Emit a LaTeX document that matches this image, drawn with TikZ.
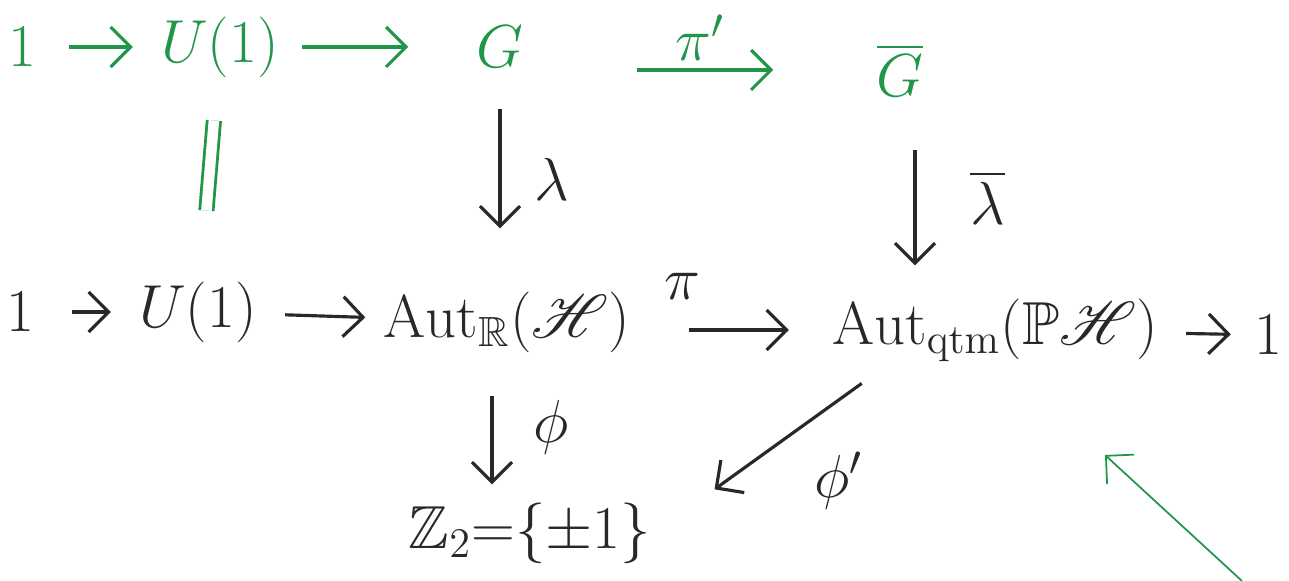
\documentclass[tikz,border=0pt]{standalone}
\usepackage{amssymb}
\usepackage{mathrsfs}
\usetikzlibrary{arrows.meta}
\tikzset{every node/.style={font=\LARGE}}

\begin{document}
\begin{tikzpicture}[>={Straight Barb[length=2mm, width=4mm]}, line width=0.9pt]
  % Bounding box fixed to the sheet.
  \path[use as bounding box] (0,0) rectangle (12.89,-5.81);

  % Pen colours.
  \definecolor{pengreen}{RGB}{34,150,72}
  \definecolor{penblack}{RGB}{40,40,40}

  % Top row (green pen).
  \node[text=pengreen] (onetl) at (0.22,-0.47) {$1$};
  \node[text=pengreen] (utop) at (2.2,-0.47) {$U(1)$};
  \node[text=pengreen] (g) at (5.0,-0.47) {$G$};
  \node[text=pengreen] (gbar) at (9.0,-0.70) {$\overline{G}$};

  % Bottom row (black pen).
  \node[text=penblack] (onebl) at (0.2,-3.12) {$1$};
  \node[text=penblack] (ubot) at (1.98,-3.12) {$U(1)$};
  \node[text=penblack] (autr) at (5.07,-3.22) {$\mathrm{Aut}_{\mathbb{R}}(\mathscr{H})$};
  \node[text=penblack] (autq) at (9.95,-3.3) {$\mathrm{Aut}_{\mathrm{qtm}}(\mathbb{P}\mathscr{H})$};
  \node[text=penblack] (onebr) at (12.68,-3.35) {$1$};
  \node[text=penblack] (z2) at (5.3,-5.33) {$\mathbb{Z}_2{=}\{\pm 1\}$};

  % Free end of the green stroke.
  \coordinate (gtail) at (12.42,-5.81);
  \coordinate (gtip) at (11.05,-4.55);

  % Top row arrows.
  \draw[->, pengreen, shorten <=0.2cm, shorten >=0.15cm] (onetl) -- (utop);
  \draw[->, pengreen, shorten <=0.1cm, shorten >=0.55cm] (utop) -- (g);
  \draw[->, pengreen, shorten <=1.0cm, shorten >=0.9cm] (g.east |- gbar) -- (gbar)
    node[midway, above=-1pt, text=pengreen] {$\pi'$};

  % Verticals.
  \draw[pengreen, double, double distance=3pt, line width=0.8pt,
        shorten <=0.3cm, shorten >=0.58cm] (utop) -- (ubot);
  \draw[->, penblack, shorten <=0.28cm, shorten >=0.5cm] (g) -- (g |- autr.north)
    node[midway, right=6pt, text=penblack] {$\lambda$};
  \draw[->, penblack, shorten <=0.4cm, shorten >=0.2cm] ([xshift=1.5mm]gbar.south) -- ([xshift=1.5mm]gbar.south |- autq.north)
    node[midway, right=12pt, text=penblack] {$\overline{\lambda}$};

  % Bottom row arrows.
  \draw[->, penblack, shorten <=0.25cm, shorten >=0.15cm] (onebl) -- (ubot);
  \draw[->, penblack, shorten <=0.15cm, shorten >=0.05cm] (ubot) -- (autr);
  \draw[->, penblack, shorten <=0.45cm, shorten >=0.3cm] (autr.east |- autq) -- (autq)
    node[pos=0.22, above=5pt, text=penblack] {$\pi$};
  \draw[->, penblack, shorten <=0.15cm, shorten >=0.1cm] (autq) -- (onebr);

  % Maps to Z_2.
  \draw[->, penblack, shorten <=0.3cm, shorten >=0.05cm] ([xshift=-1.5mm]autr.south) -- ([xshift=-1.5mm]autr.south |- z2.north)
    node[midway, right=8pt, text=penblack] {$\phi$};
  \draw[->, penblack, shorten <=0.15cm] ([xshift=5.5mm]autq.south west) -- ([xshift=5mm]z2.north east)
    node[pos=0.5, below right=2pt, text=penblack] {$\phi'$};

  % Green stroke at the corner.
  \draw[->, pengreen, line width=0.5pt] (gtail) -- (gtip);
\end{tikzpicture}
\end{document}
